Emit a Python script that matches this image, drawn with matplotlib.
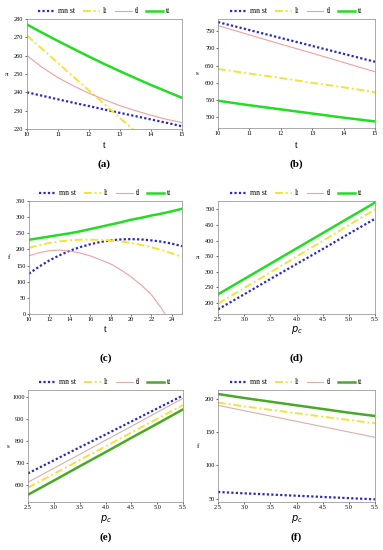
import matplotlib.pyplot as plt
import numpy as np

# panel (a): x = t
t_a = [10, 10.5, 11, 11.5, 12, 12.5, 13, 13.5, 14, 14.5, 15]
a_mnst = [240, 238.1, 236.2, 234.3, 232.5, 230.6, 228.8, 227, 225.2, 223.4, 221.5]
a_lt = [271, 263.5, 256, 248.5, 241, 233.5, 226, 218.5, 211, 203.5, 196]
a_tl = [260, 253.5, 248, 243.5, 239.5, 236, 232.7, 230, 227.5, 225.3, 223.5]
a_tt = [277, 272.4, 268, 263.7, 259.5, 255.4, 251.5, 247.7, 244, 240.5, 237]

# panel (b): x = t
t_b = [10, 11, 12, 13, 14, 15]
b_mnst = [776, 753, 730, 707, 684, 661]
b_lt = [640, 627, 614, 600, 587, 573]
b_tl = [766, 739, 712, 686, 659, 632]
b_tt = [548, 535, 523, 511, 499, 488]

# panel (c): x = t
t_c = [10, 11, 12, 13, 14, 15, 16, 17, 18, 19, 20, 21, 22, 23, 24, 25]
c_mnst = [125, 147, 166, 182, 196, 207, 216, 223, 228, 231, 232, 231, 228, 224, 218, 210]
c_lt = [205, 213, 220, 225, 228, 230, 230, 229.5, 228, 224.5, 220, 214, 207, 198, 188, 177]
c_tl = [180, 190, 196, 198, 195, 189, 180, 168, 155, 137, 115, 90, 60, 17, -35, -90]
c_tt = [230, 235, 240, 245, 250, 256, 263, 270, 277, 284, 292, 298, 305, 311, 318, 326]

# panels (d)-(f): x = p_c
pc = [2.5, 3.0, 3.5, 4.0, 4.5, 5.0, 5.5]
d_mnst = [180, 228, 277, 325, 373, 422, 470]
d_lt = [198, 248, 298, 349, 399, 450, 500]
d_tl = [228, 277, 326, 375, 424, 473, 522]
d_tt = [228, 277, 326, 375, 424, 473, 522]

e_mnst = [655, 714, 773, 831, 890, 949, 1008]
e_lt = [590, 652, 715, 777, 840, 902, 965]
e_tl = [615, 678, 741, 805, 868, 932, 995]
e_tt = [558, 622, 687, 751, 816, 880, 945]

f_mnst = [60, 58, 56.2, 54.4, 52.6, 50.8, 49]
f_lt = [194, 188.5, 183.3, 178.2, 173, 168, 163]
f_tl = [190, 182, 174, 166, 158, 150, 142]
f_tt = [207, 201, 195.5, 190, 184.5, 179, 174]

names = ["mn st", "lt", "tl", "tt"]

panels = [
    ("(a)", t_a, [a_mnst, a_lt, a_tl, a_tt], "t", "π", (220, 280), [10, 11, 12, 13, 14, 15], [220, 230, 240, 250, 260, 270, 280]),
    ("(b)", t_b, [b_mnst, b_lt, b_tl, b_tt], "t", "s", (469, 785), [10, 11, 12, 13, 14, 15], [500, 550, 600, 650, 700, 750]),
    ("(c)", t_c, [c_mnst, c_lt, c_tl, c_tt], "t", "f", (0, 350), [10, 12, 14, 16, 18, 20, 22, 24], [0, 50, 100, 150, 200, 250, 300, 350]),
    ("(d)", pc, [d_mnst, d_lt, d_tl, d_tt], "$p_c$", "π", (165, 527), [2.5, 3.0, 3.5, 4.0, 4.5, 5.0, 5.5], [200, 250, 300, 350, 400, 450, 500]),
    ("(e)", pc, [e_mnst, e_lt, e_tl, e_tt], "$p_c$", "s", (525, 1033), [2.5, 3.0, 3.5, 4.0, 4.5, 5.0, 5.5], [600, 700, 800, 900, 1000]),
    ("(f)", pc, [f_mnst, f_lt, f_tl, f_tt], "$p_c$", "f", (45, 213), [2.5, 3.0, 3.5, 4.0, 4.5, 5.0, 5.5], [50, 100, 150, 200]),
]

styles = [
    dict(color="#2a2ab8", ls=(0, (1, 1)), lw=1.6),
    dict(color="#f2e33a", ls=(0, (4, 1.5, 1, 1.5)), lw=1.4),
    dict(color="#f0a0a0", ls="-", lw=0.8),
    dict(color="#22dd22", ls="-", lw=1.8),
]
green2 = "#4aa828"
tl2 = "#d8b0a8"

plt.rcParams['font.family'] = ['Liberation Serif', 'DejaVu Serif']
fig = plt.figure(figsize=(3.83, 5.5), dpi=100)
W, H = 383, 550

# axes rects in pixels: left, top, right, bottom
rects = [
    (27, 19, 182, 129), (218, 19, 375, 128),
    (29, 201, 182, 314), (218, 201, 375, 314),
    (28, 390, 183, 502), (218, 390, 375, 502),
]
lab_y = [145, 145, 330, 330, 519, 519]
cap_y = [164, 164, 358, 358, 537, 537]

for i, (cap, xs, series, xl, yl, ylim, xt, yt) in enumerate(panels):
    l, tp, r, b = rects[i]
    ax = fig.add_axes([l / W, 1 - b / H, (r - l) / W, (b - tp) / H])
    for j, (ys, st) in enumerate(zip(series, styles)):
        st = dict(st)
        if i >= 4 and j == 3:
            st["color"] = green2
        if i >= 4 and j == 2:
            st["color"] = tl2
        ax.plot(xs, ys, label=names[j], **st)
    ax.set_xlim(xs[0], xs[-1])
    ax.set_ylim(*ylim)
    ax.set_xticks(xt)
    ax.set_yticks(yt)
    if i >= 3:
        ax.set_xticklabels(["%.1f" % v for v in xt])
    ax.tick_params(labelsize=4.5, length=1.5, width=0.4, pad=1)
    for s in ax.spines.values():
        s.set_linewidth(0.5)
        s.set_color("#888888")
    ax.text(-0.13, 0.5, yl, transform=ax.transAxes,
            fontsize=5, ha="center", va="center")
    cx = (l + r) / 2 / W
    fig.text(cx, 1 - lab_y[i] / H, xl, fontsize=7, ha="center", va="center",
             style="italic" if i >= 3 else "normal")
    fig.text(cx, 1 - cap_y[i] / H, cap, fontsize=8, ha="center", va="center",
             fontweight="bold")
    ax.legend(loc="lower center", bbox_to_anchor=(0.5, 1.0), ncol=4, frameon=False,
              fontsize=5.5, handlelength=2.2, columnspacing=1.0, handletextpad=0.4,
              borderaxespad=0.1)

fig.savefig("out.png", dpi=100)
